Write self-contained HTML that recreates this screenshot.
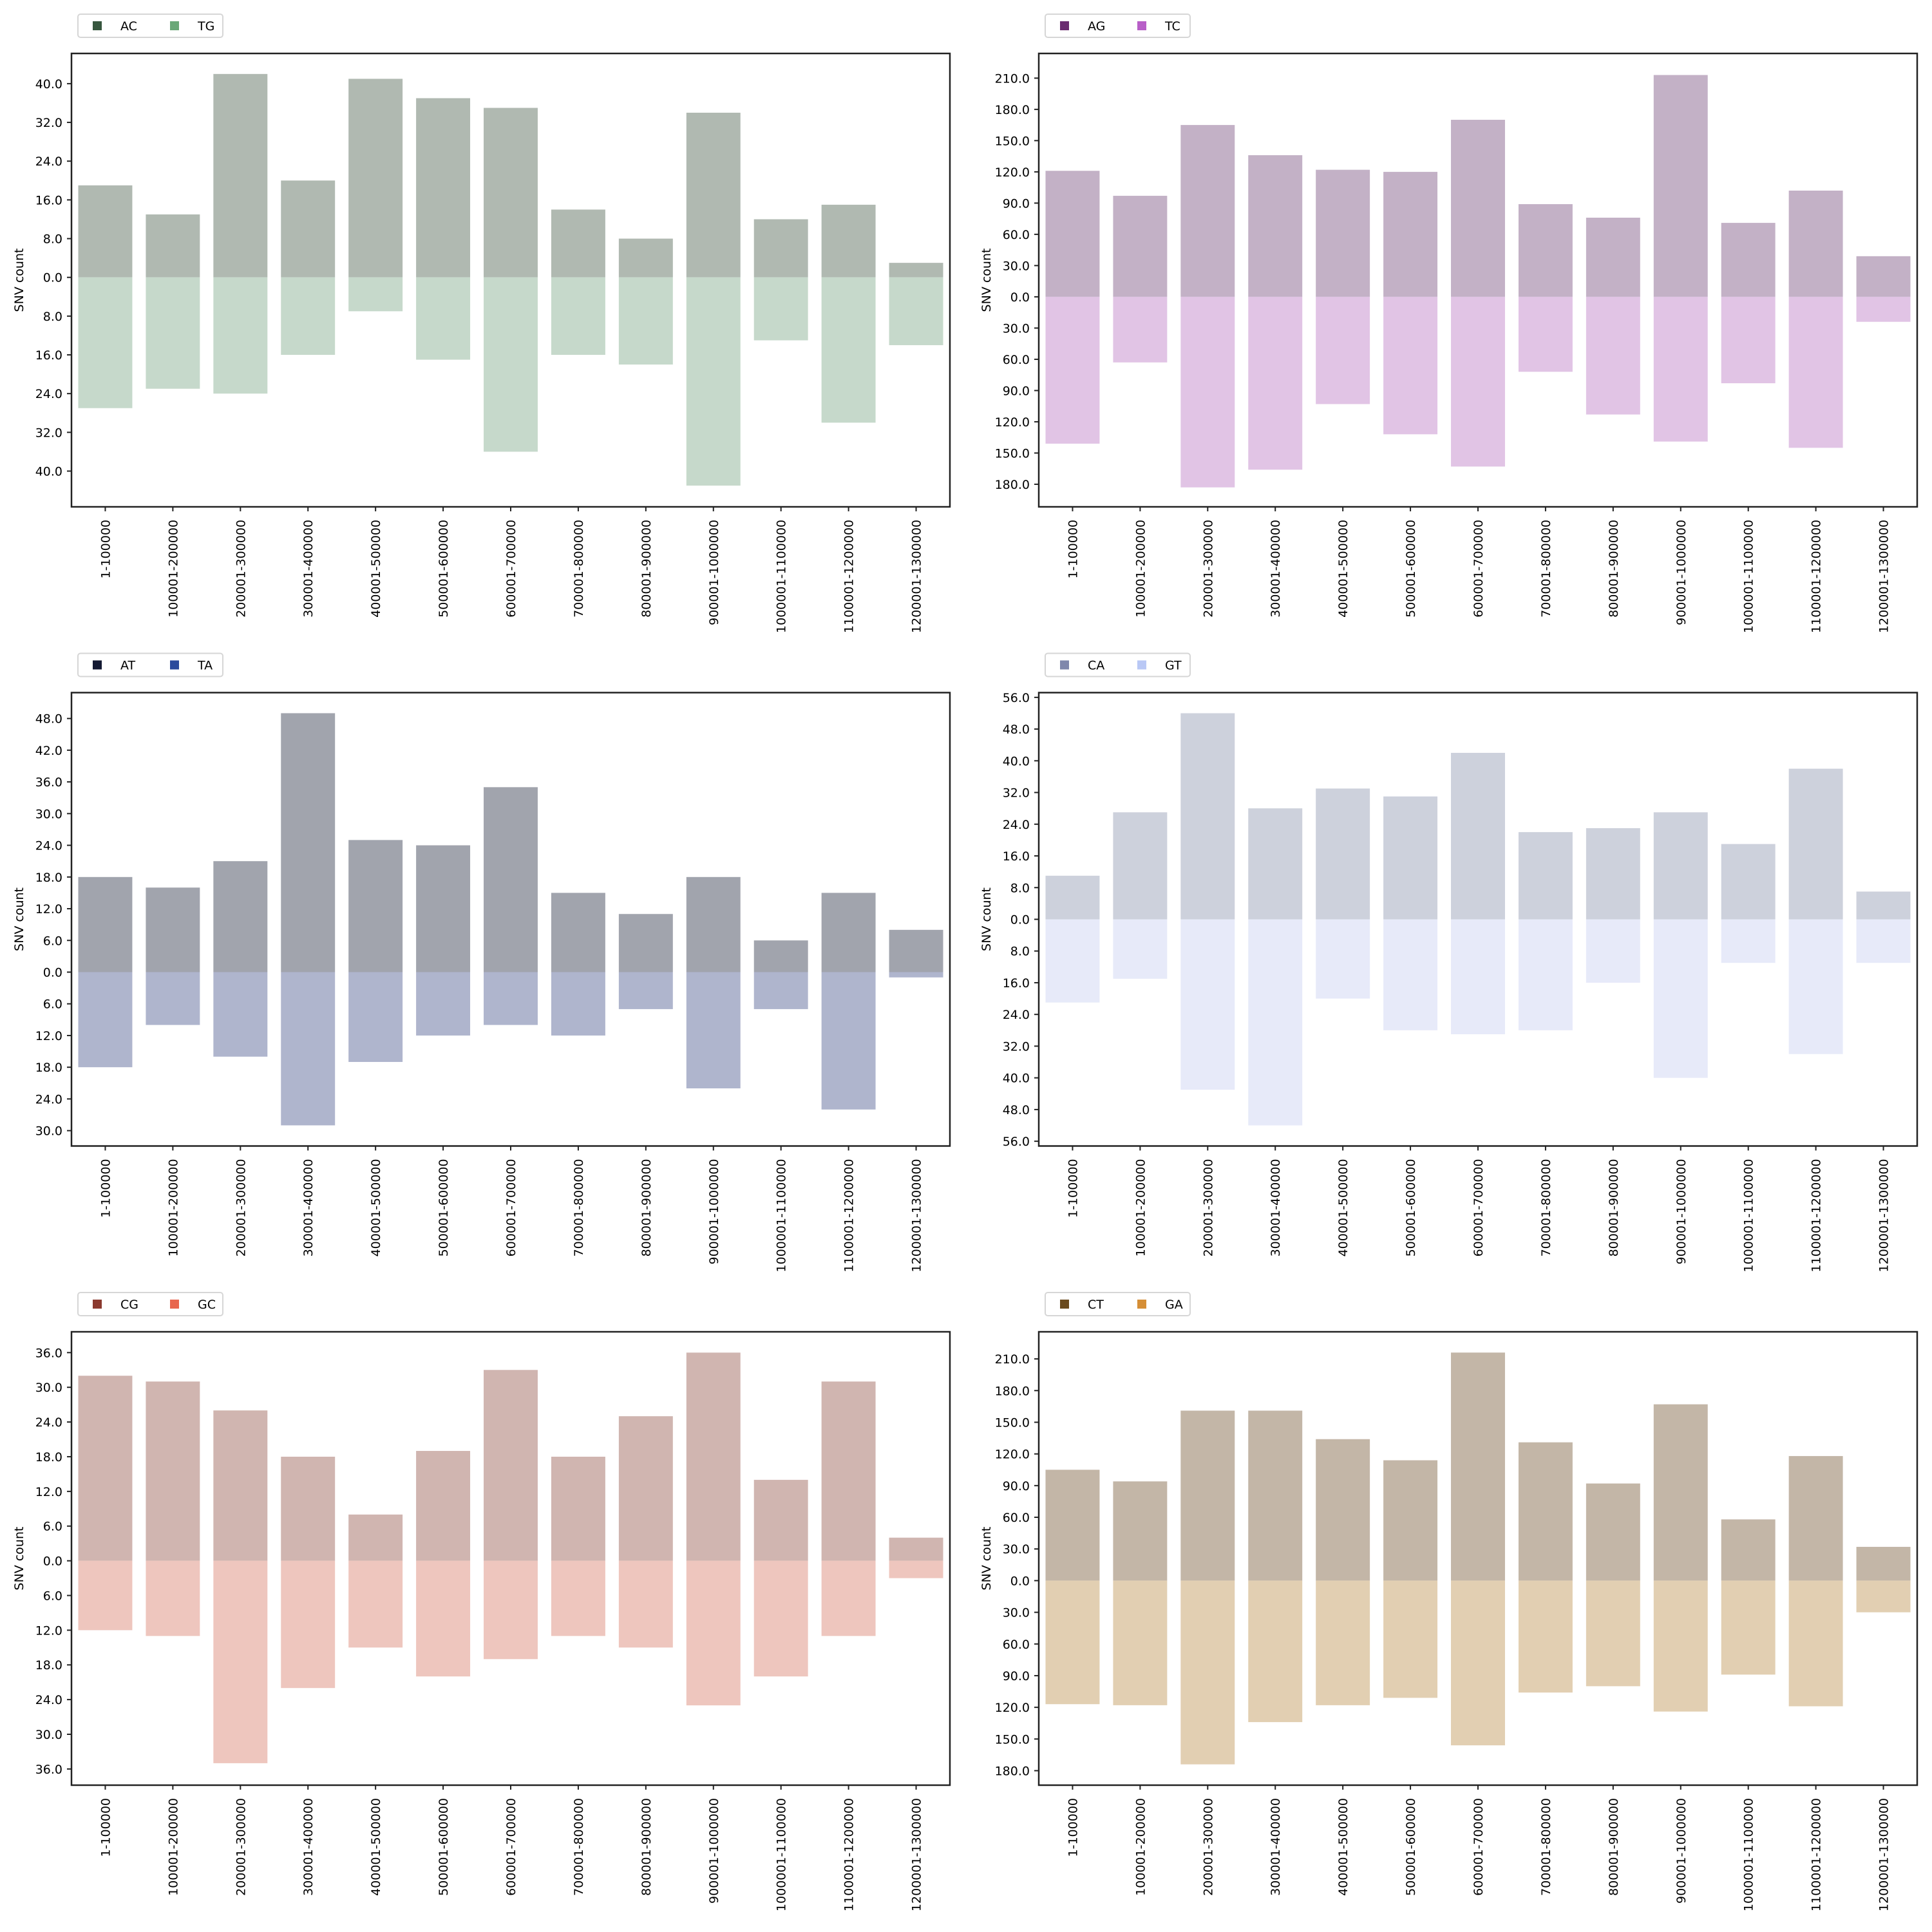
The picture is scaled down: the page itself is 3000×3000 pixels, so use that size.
<!DOCTYPE html>
<html><head><meta charset="utf-8"><style>
html,body{margin:0;padding:0;background:#fff;}
svg{display:block;font-family:"DejaVu Sans","Liberation Sans",sans-serif;}
text{font-size:19px;fill:#000;}
</style></head><body>
<svg id="s" width="3000" height="3000" viewBox="0 0 3000 3000">
<rect width="3000" height="3000" fill="#fff"/>
<g class="p" transform="translate(111,83)"><g class="bars"></g>
<text class="yt">40.0</text><text class="yt">32.0</text><text class="yt">24.0</text><text class="yt">16.0</text><text class="yt">8.0</text><text class="yt">0.0</text><text class="yt">8.0</text><text class="yt">16.0</text><text class="yt">24.0</text><text class="yt">32.0</text><text class="yt">40.0</text>
<text class="xl">1-100000</text><text class="xl">100001-200000</text><text class="xl">200001-300000</text><text class="xl">300001-400000</text><text class="xl">400001-500000</text><text class="xl">500001-600000</text><text class="xl">600001-700000</text><text class="xl">700001-800000</text><text class="xl">800001-900000</text><text class="xl">900001-1000000</text><text class="xl">1000001-1100000</text><text class="xl">1100001-1200000</text><text class="xl">1200001-1300000</text>
<text class="yl">SNV count</text><text class="l1">AC</text><text class="l2">TG</text></g>
<g class="p" transform="translate(1613,83)"><g class="bars"></g>
<text class="yt">210.0</text><text class="yt">180.0</text><text class="yt">150.0</text><text class="yt">120.0</text><text class="yt">90.0</text><text class="yt">60.0</text><text class="yt">30.0</text><text class="yt">0.0</text><text class="yt">30.0</text><text class="yt">60.0</text><text class="yt">90.0</text><text class="yt">120.0</text><text class="yt">150.0</text><text class="yt">180.0</text>
<text class="xl">1-100000</text><text class="xl">100001-200000</text><text class="xl">200001-300000</text><text class="xl">300001-400000</text><text class="xl">400001-500000</text><text class="xl">500001-600000</text><text class="xl">600001-700000</text><text class="xl">700001-800000</text><text class="xl">800001-900000</text><text class="xl">900001-1000000</text><text class="xl">1000001-1100000</text><text class="xl">1100001-1200000</text><text class="xl">1200001-1300000</text>
<text class="yl">SNV count</text><text class="l1">AG</text><text class="l2">TC</text></g>
<g class="p" transform="translate(111,1075.5)"><g class="bars"></g>
<text class="yt">48.0</text><text class="yt">42.0</text><text class="yt">36.0</text><text class="yt">30.0</text><text class="yt">24.0</text><text class="yt">18.0</text><text class="yt">12.0</text><text class="yt">6.0</text><text class="yt">0.0</text><text class="yt">6.0</text><text class="yt">12.0</text><text class="yt">18.0</text><text class="yt">24.0</text><text class="yt">30.0</text>
<text class="xl">1-100000</text><text class="xl">100001-200000</text><text class="xl">200001-300000</text><text class="xl">300001-400000</text><text class="xl">400001-500000</text><text class="xl">500001-600000</text><text class="xl">600001-700000</text><text class="xl">700001-800000</text><text class="xl">800001-900000</text><text class="xl">900001-1000000</text><text class="xl">1000001-1100000</text><text class="xl">1100001-1200000</text><text class="xl">1200001-1300000</text>
<text class="yl">SNV count</text><text class="l1">AT</text><text class="l2">TA</text></g>
<g class="p" transform="translate(1613,1075.5)"><g class="bars"></g>
<text class="yt">56.0</text><text class="yt">48.0</text><text class="yt">40.0</text><text class="yt">32.0</text><text class="yt">24.0</text><text class="yt">16.0</text><text class="yt">8.0</text><text class="yt">0.0</text><text class="yt">8.0</text><text class="yt">16.0</text><text class="yt">24.0</text><text class="yt">32.0</text><text class="yt">40.0</text><text class="yt">48.0</text><text class="yt">56.0</text>
<text class="xl">1-100000</text><text class="xl">100001-200000</text><text class="xl">200001-300000</text><text class="xl">300001-400000</text><text class="xl">400001-500000</text><text class="xl">500001-600000</text><text class="xl">600001-700000</text><text class="xl">700001-800000</text><text class="xl">800001-900000</text><text class="xl">900001-1000000</text><text class="xl">1000001-1100000</text><text class="xl">1100001-1200000</text><text class="xl">1200001-1300000</text>
<text class="yl">SNV count</text><text class="l1">CA</text><text class="l2">GT</text></g>
<g class="p" transform="translate(111,2068)"><g class="bars"></g>
<text class="yt">36.0</text><text class="yt">30.0</text><text class="yt">24.0</text><text class="yt">18.0</text><text class="yt">12.0</text><text class="yt">6.0</text><text class="yt">0.0</text><text class="yt">6.0</text><text class="yt">12.0</text><text class="yt">18.0</text><text class="yt">24.0</text><text class="yt">30.0</text><text class="yt">36.0</text>
<text class="xl">1-100000</text><text class="xl">100001-200000</text><text class="xl">200001-300000</text><text class="xl">300001-400000</text><text class="xl">400001-500000</text><text class="xl">500001-600000</text><text class="xl">600001-700000</text><text class="xl">700001-800000</text><text class="xl">800001-900000</text><text class="xl">900001-1000000</text><text class="xl">1000001-1100000</text><text class="xl">1100001-1200000</text><text class="xl">1200001-1300000</text>
<text class="yl">SNV count</text><text class="l1">CG</text><text class="l2">GC</text></g>
<g class="p" transform="translate(1613,2068)"><g class="bars"></g>
<text class="yt">210.0</text><text class="yt">180.0</text><text class="yt">150.0</text><text class="yt">120.0</text><text class="yt">90.0</text><text class="yt">60.0</text><text class="yt">30.0</text><text class="yt">0.0</text><text class="yt">30.0</text><text class="yt">60.0</text><text class="yt">90.0</text><text class="yt">120.0</text><text class="yt">150.0</text><text class="yt">180.0</text>
<text class="xl">1-100000</text><text class="xl">100001-200000</text><text class="xl">200001-300000</text><text class="xl">300001-400000</text><text class="xl">400001-500000</text><text class="xl">500001-600000</text><text class="xl">600001-700000</text><text class="xl">700001-800000</text><text class="xl">800001-900000</text><text class="xl">900001-1000000</text><text class="xl">1000001-1100000</text><text class="xl">1100001-1200000</text><text class="xl">1200001-1300000</text>
<text class="yl">SNV count</text><text class="l1">CT</text><text class="l2">GA</text></g>
</svg>
<script>
var W=1364,H=704,NS="http://www.w3.org/2000/svg";
var P=[
{z:347.7,k:7.52,up:[19,13,42,20,41,37,35,14,8,34,12,15,3],dn:[27,23,24,16,7,17,36,16,18,43,13,30,14],cu:"#b0b9b1",cd:"#c6d9cb",l1:"#37573f",l2:"#6aa878"},
{z:377.9,k:1.617,up:[121,97,165,136,122,120,170,89,76,213,71,102,39],dn:[141,63,183,166,103,132,163,72,113,139,83,145,24],cu:"#c3b1c6",cd:"#e1c4e5",l1:"#6a2c70",l2:"#b85fc8"},
{z:434,k:8.205,up:[18,16,21,49,25,24,35,15,11,18,6,15,8],dn:[18,10,16,29,17,12,10,12,7,22,7,26,1],cu:"#a1a4ad",cd:"#afb5cd",l1:"#141a33",l2:"#2b4a9c"},
{z:352,k:6.154,up:[11,27,52,28,33,31,42,22,23,27,19,38,7],dn:[21,15,43,52,20,28,29,28,16,40,11,34,11],cu:"#cdd1dc",cd:"#e7eaf9",l1:"#7f87ac",l2:"#b9c8f5"},
{z:355.6,k:8.98,up:[32,31,26,18,8,19,33,18,25,36,14,31,4],dn:[12,13,35,22,15,20,17,13,15,25,20,13,3],cu:"#d0b5b0",cd:"#eec6be",l1:"#8b3a2f",l2:"#e8664e"},
{z:386.4,k:1.6395,up:[105,94,161,161,134,114,216,131,92,167,58,118,32],dn:[117,118,174,134,118,111,156,106,100,124,89,119,30],cu:"#c3b6a7",cd:"#e2cfb2",l1:"#6a4a1e",l2:"#d58e36"}];
function el(t,a,par){var e=document.createElementNS(NS,t);for(var k in a)e.setAttribute(k,a[k]);(par).appendChild(e);return e;}
var gs=document.querySelectorAll("g.p"),pw=W/13;
gs.forEach(function(g,i){var d=P[i],b=g.querySelector(".bars");
 for(var j=0;j<13;j++){var x=j*pw+pw*0.1,w=pw*0.8;
  el("rect",{x:x,y:d.z-d.up[j]*d.k,width:w,height:d.up[j]*d.k,fill:d.cu},b);
  el("rect",{x:x,y:d.z,width:w,height:d.dn[j]*d.k,fill:d.cd},b);
  var cx=(j+0.5)*pw;el("line",{x1:cx,y1:H,x2:cx,y2:H+7,stroke:"#222","stroke-width":2},g);}
 el("rect",{x:0,y:0,width:W,height:H,fill:"none",stroke:"#222","stroke-width":2.5},g);
 var yts=g.querySelectorAll(".yt"),sign=1;
 yts.forEach(function(t){var v=parseFloat(t.textContent);var y=d.z-sign*v*d.k;if(v===0)sign=-1;
  t.setAttribute("x",-14);t.setAttribute("y",y+7);t.setAttribute("text-anchor","end");
  el("line",{x1:-7,y1:y,x2:0,y2:y,stroke:"#222","stroke-width":2},g);});
 g.querySelectorAll(".xl").forEach(function(t,j){var cx=(j+0.5)*pw+7,yy=H+20;
  t.setAttribute("x",cx);t.setAttribute("y",yy);t.setAttribute("text-anchor","end");t.setAttribute("transform","rotate(-90 "+cx+" "+yy+")");});
 var yl=g.querySelector(".yl");yl.setAttribute("x",-75);yl.setAttribute("y",352);yl.setAttribute("text-anchor","middle");yl.setAttribute("transform","rotate(-90 -75 352)");
 el("rect",{x:10,y:-61,width:225,height:36,rx:4,fill:"#fff",stroke:"#d6d6d6","stroke-width":2},g);
 el("rect",{x:33,y:-50,width:14,height:14,fill:d.l1},g);
 el("rect",{x:153,y:-50,width:14,height:14,fill:d.l2},g);
 var a=g.querySelector(".l1"),c=g.querySelector(".l2");
 a.setAttribute("x",76);a.setAttribute("y",-36);c.setAttribute("x",196);c.setAttribute("y",-36);
 g.appendChild(a);g.appendChild(c);
});
</script>
</body></html>
